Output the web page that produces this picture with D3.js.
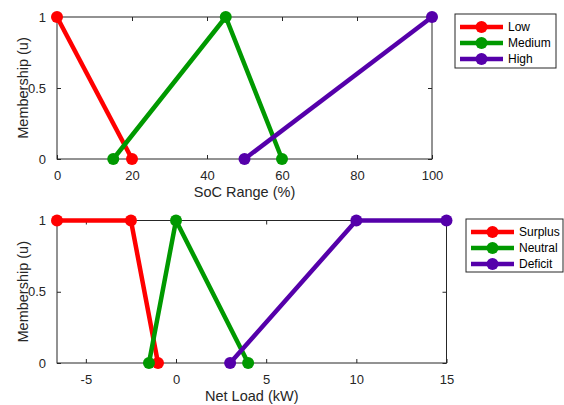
<!DOCTYPE html>
<html>
<head>
<meta charset="utf-8">
<script src="https://cdn.jsdelivr.net/npm/d3@7"></script>
<style>
  html, body { margin: 0; padding: 0; background: #fff; }
  svg { display: block; font-family: "Liberation Sans", Arial, Helvetica, sans-serif; }
</style>
</head>
<body>
<svg id="chart" width="564" height="405"></svg>
<script>
// Membership functions for the state-of-charge input
const socNames = ["Low", "Medium", "High"];
const socX = [[0, 20], [15, 45, 60], [50, 100]];
const socU = [[1, 0], [0, 1, 0], [0, 1]];
const socTicks = [0, 20, 40, 60, 80, 100];

// Membership functions for the net-load input
const loadNames = ["Surplus", "Neutral", "Deficit"];
const loadX = [[-6.6, -2.5, -1], [-1.5, 0, 4], [3, 10, 15]];
const loadU = [[1, 1, 0], [0, 1, 0], [0, 1, 1]];
const loadTicks = [-5, 0, 5, 10, 15];

const uTicks = [0, 0.5, 1];
const uTickLabels = ["0", "0.5", "1"];
const colors = ["#ff0000", "#009900", "#5500aa"];

const svg = d3.select("#chart");
const axisColor = "#262626";

function panel(opt) {
  const g = svg.append("g");
  const x = d3.scaleLinear().domain(opt.xDomain).range([opt.left, opt.right]);
  const y = d3.scaleLinear().domain([0, 1]).range([opt.bottom, opt.top]);

  // box frame
  g.append("rect")
    .attr("x", opt.left).attr("y", opt.top)
    .attr("width", opt.right - opt.left).attr("height", opt.bottom - opt.top)
    .attr("fill", "none").attr("stroke", axisColor).attr("stroke-width", 1);

  const tickLen = 4;
  const styleAxis = sel => {
    sel.select(".domain").remove();
    sel.selectAll(".tick line").attr("stroke", axisColor);
    sel.selectAll(".tick text").attr("fill", "#262626").style("font-size", "13px");
  };

  // bottom and top x axes (ticks point inward); plain hyphen for negatives
  g.append("g").attr("transform", `translate(0,${opt.bottom})`)
    .call(d3.axisBottom(x).tickValues(opt.xTicks).tickSizeInner(-tickLen).tickPadding(8 + tickLen).tickFormat(d => String(d)))
    .call(styleAxis);
  g.append("g").attr("transform", `translate(0,${opt.top})`)
    .call(d3.axisTop(x).tickValues(opt.xTicks).tickSizeInner(-tickLen).tickFormat(""))
    .call(styleAxis);

  // left and right y axes
  g.append("g").attr("transform", `translate(${opt.left},0)`)
    .call(d3.axisLeft(y).tickValues(uTicks).tickSizeInner(-tickLen).tickPadding(7 + tickLen)
      .tickFormat((d, i) => uTickLabels[i]))
    .call(styleAxis);
  g.append("g").attr("transform", `translate(${opt.right},0)`)
    .call(d3.axisRight(y).tickValues(uTicks).tickSizeInner(-tickLen).tickFormat(""))
    .call(styleAxis);

  // axis titles
  g.append("text")
    .attr("x", (opt.left + opt.right) / 2).attr("y", opt.bottom + 38)
    .attr("text-anchor", "middle").attr("fill", "#262626")
    .style("font-size", "14.5px").text(opt.xLabel);
  g.append("text")
    .attr("transform", `translate(${opt.left - 29},${(opt.top + opt.bottom) / 2}) rotate(-90)`)
    .attr("text-anchor", "middle").attr("fill", "#262626")
    .style("font-size", "14.5px").text("Membership (u)");

  // series: polyline plus round markers
  const line = d3.line().x(d => x(d[0])).y(d => y(d[1]));
  opt.names.forEach((name, i) => {
    const pts = opt.xs[i].map((v, j) => [v, opt.us[i][j]]);
    const s = g.append("g");
    s.append("path").datum(pts).attr("d", line)
      .attr("fill", "none").attr("stroke", colors[i]).attr("stroke-width", 4.5)
      .attr("stroke-linejoin", "round");
    s.selectAll("circle").data(pts).join("circle")
      .attr("cx", d => x(d[0])).attr("cy", d => y(d[1])).attr("r", 6)
      .attr("fill", colors[i]);
  });

  // legend
  const lg = svg.append("g");
  lg.append("rect")
    .attr("x", opt.legend.x).attr("y", opt.legend.y)
    .attr("width", opt.legend.w).attr("height", opt.legend.h)
    .attr("fill", "#fff").attr("stroke", axisColor).attr("stroke-width", 1);
  opt.names.forEach((name, i) => {
    const cy = opt.legend.y + 13 + i * 16;
    const x0 = opt.legend.x + 5;
    lg.append("line").attr("x1", x0).attr("x2", x0 + 43).attr("y1", cy).attr("y2", cy)
      .attr("stroke", colors[i]).attr("stroke-width", 4.5);
    lg.append("circle").attr("cx", x0 + 21.5).attr("cy", cy).attr("r", 6).attr("fill", colors[i]);
    lg.append("text").attr("x", x0 + 48).attr("y", cy).attr("dy", "0.35em")
      .attr("fill", "#000").style("font-size", "12px").text(name);
  });
}

panel({
  left: 57, right: 432, top: 17, bottom: 159,
  xDomain: [0, 100], xTicks: socTicks, xLabel: "SoC Range (%)",
  names: socNames, xs: socX, us: socU,
  legend: { x: 455, y: 14, w: 101, h: 54 }
});

panel({
  left: 57, right: 446.5, top: 220.5, bottom: 363,
  xDomain: [-6.6, 15], xTicks: loadTicks, xLabel: "Net Load (kW)",
  names: loadNames, xs: loadX, us: loadU,
  legend: { x: 466, y: 219, w: 97, h: 53 }
});
</script>
</body>
</html>
